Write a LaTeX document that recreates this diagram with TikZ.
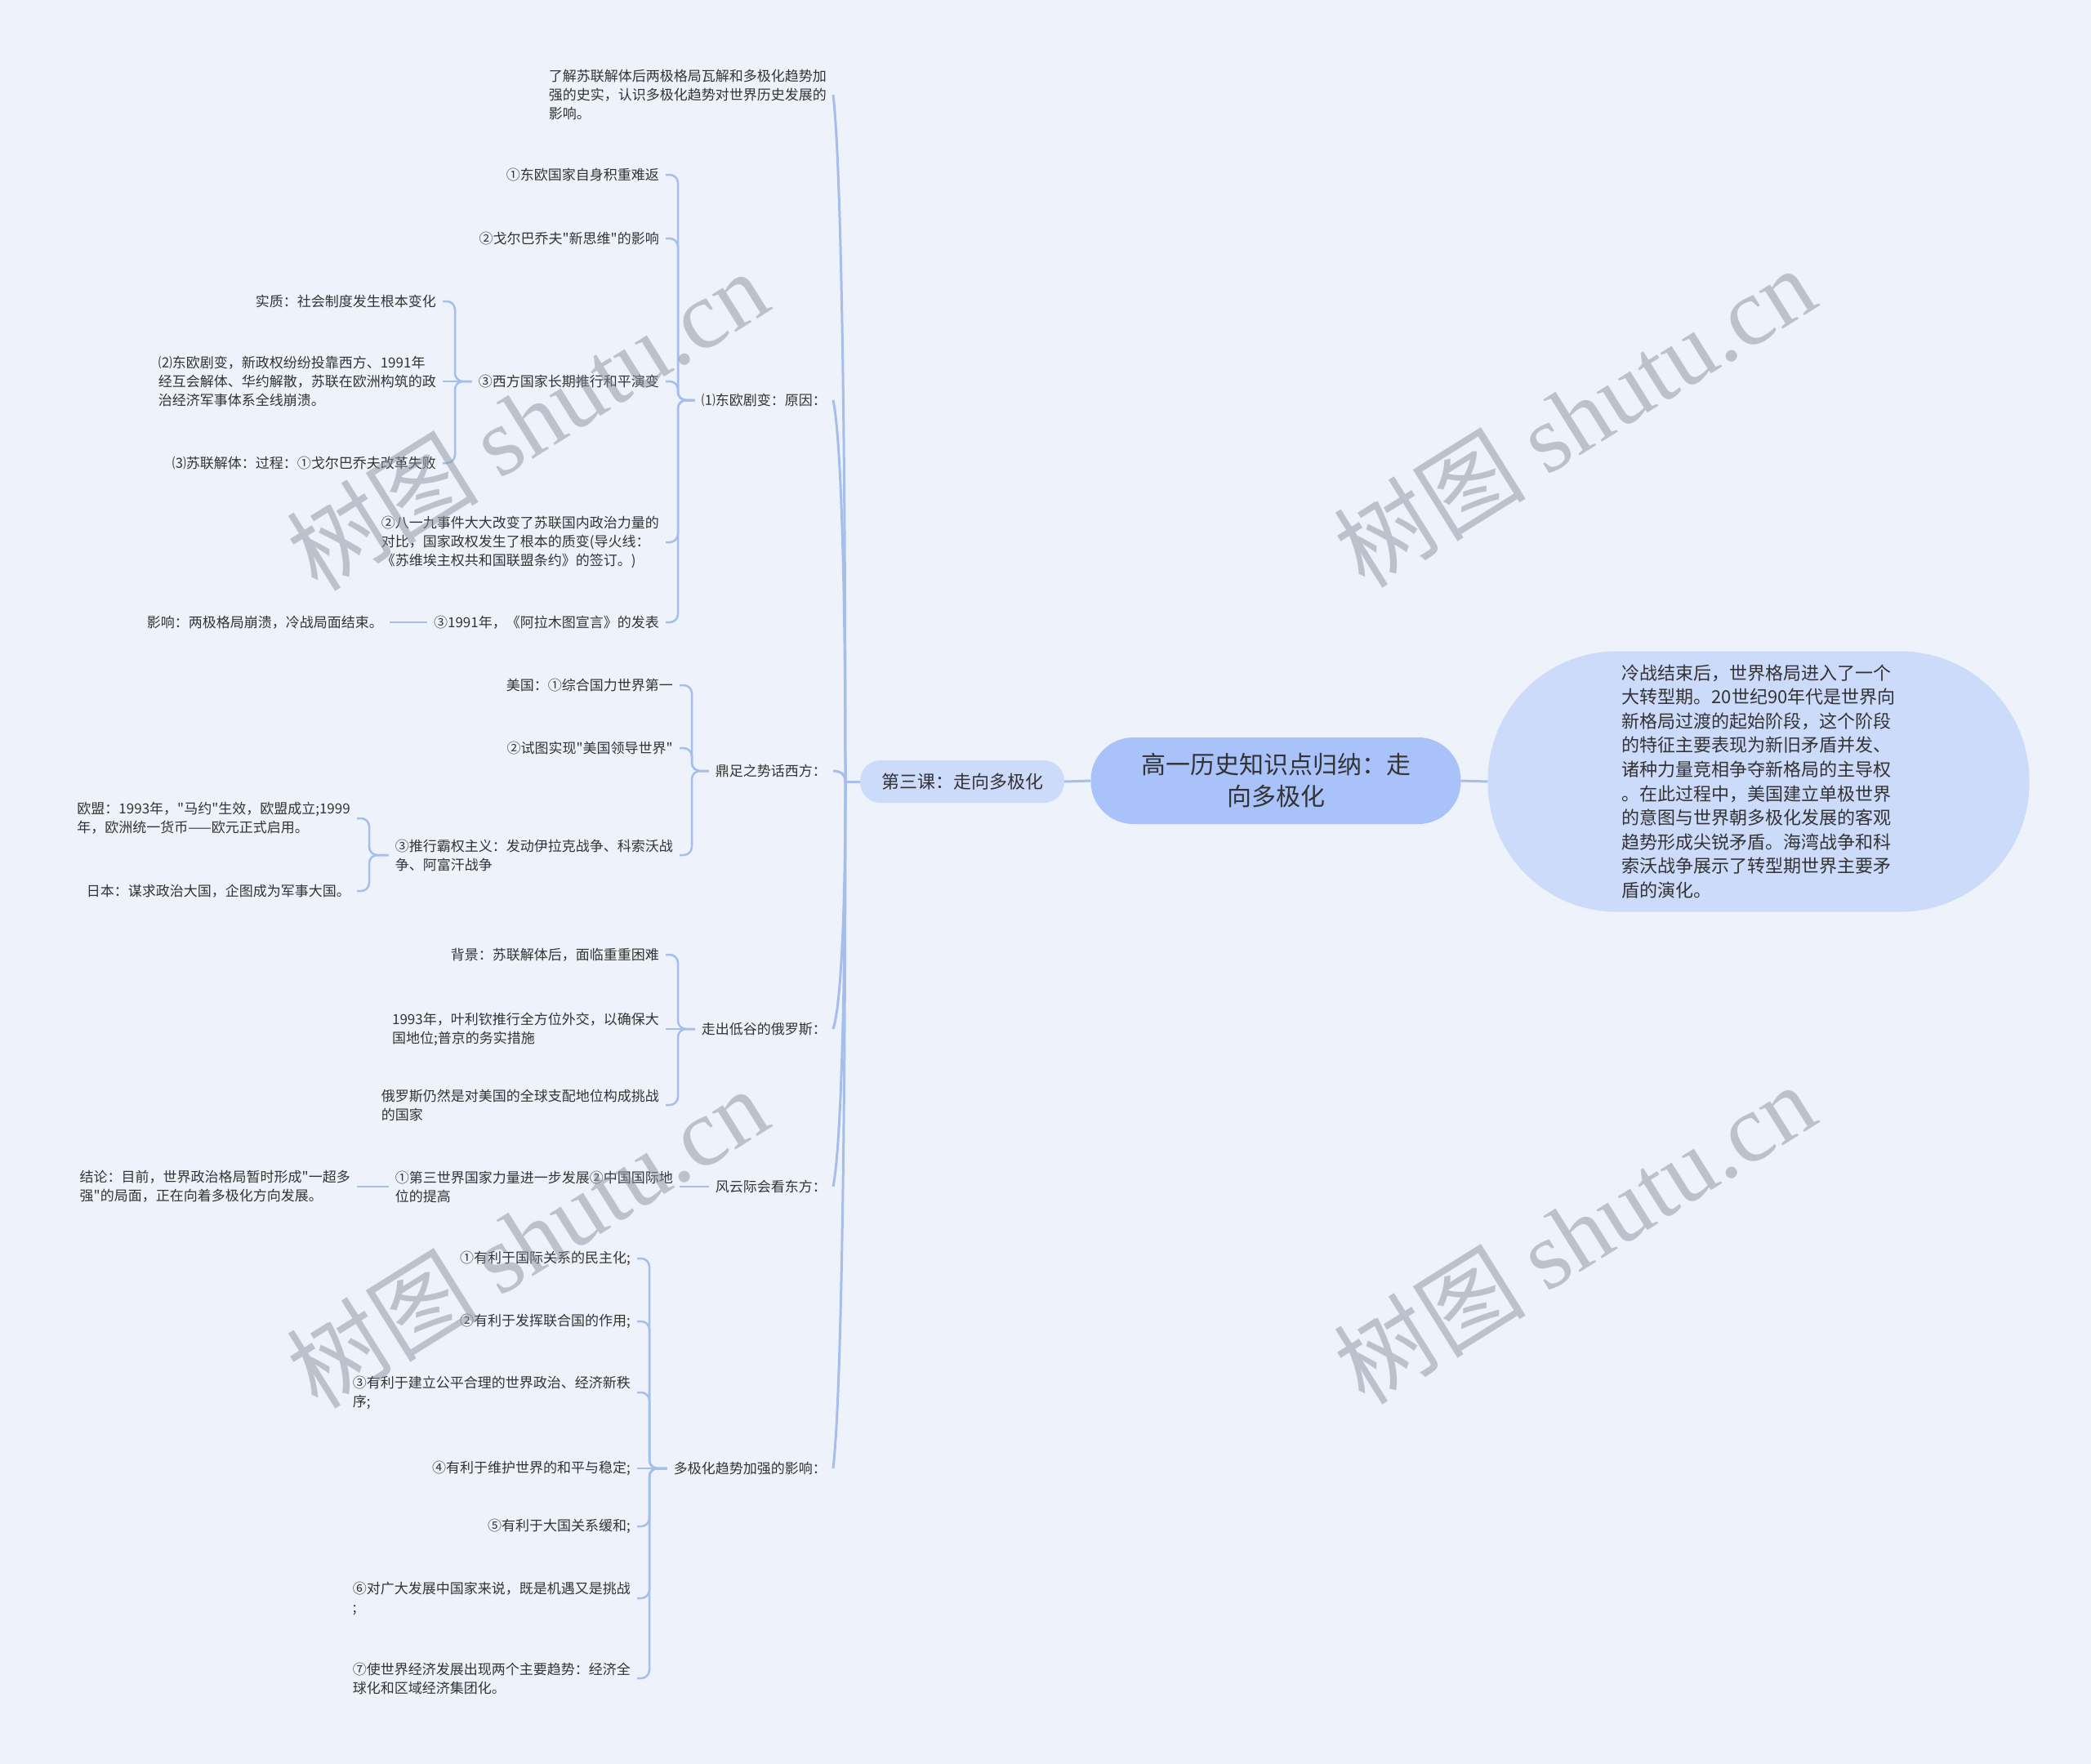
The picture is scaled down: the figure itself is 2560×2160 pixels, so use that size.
\documentclass[tikz,border=0pt]{standalone}
\usepackage{fontspec}
\setmainfont{Noto Sans CJK SC}[Ligatures=TeXOff]
\newfontfamily\wmlatin{Liberation Serif}
\definecolor{bgc}{RGB}{238,243,251}
\definecolor{linec}{RGB}{166,190,236}
\definecolor{rootc}{RGB}{169,195,250}
\definecolor{lightc}{RGB}{205,219,250}
\definecolor{txt}{RGB}{51,51,51}
\definecolor{wmc}{RGB}{140,146,158}
\begin{document}
\begin{tikzpicture}[x=1pt,y=-1pt,
  mainline/.style={draw=linec, line width=3pt},
  conn/.style={draw=linec, line width=2.5pt, rounded corners=10pt},
  leaf/.style={font=\fontsize{17pt}{23pt}\selectfont, text=txt, inner xsep=8pt, inner ysep=3pt, anchor=east, align=left},
  rootbox/.style={fill=rootc, text=txt, font=\fontsize{30pt}{39pt}\selectfont, align=center, minimum width=453pt, minimum height=106pt, rounded corners=52pt, inner sep=0pt},
  subbox/.style={fill=lightc, text=txt, font=\fontsize{22pt}{28pt}\selectfont, minimum width=250pt, minimum height=52pt, rounded corners=25pt, inner sep=0pt},
  notebox/.style={fill=lightc, text=txt, font=\fontsize{22pt}{29.6pt}\selectfont, align=left, minimum width=663pt, minimum height=319pt, rounded corners=158pt, inner sep=0pt},
  wm/.style={text=wmc, opacity=0.5, rotate=32, font=\fontsize{118pt}{128pt}\selectfont}
]
\useasboundingbox (0,0) rectangle (2560,2160);
\fill[bgc] (0,0) rectangle (2560,2160);

% central nodes
\node[rootbox] (root) at (1562,956) {高一历史知识点归纳：走\\向多极化};
\node[subbox] (t3) at (1178,957) {第三课：走向多极化};
\node[notebox] (note) at (2153,957) {冷战结束后，世界格局进入了一个\\大转型期。20世纪90年代是世界向\\新格局过渡的起始阶段，这个阶段\\的特征主要表现为新旧矛盾并发、\\诸种力量竞相争夺新格局的主导权\\。在此过程中，美国建立单极世界\\的意图与世界朝多极化发展的客观\\趋势形成尖锐矛盾。海湾战争和科\\索沃战争展示了转型期世界主要矛\\盾的演化。};

\draw[mainline] (root.east) -- (note.west);
\draw[mainline] (root.west) -- (t3.east);
\coordinate (mb) at (1035,957);
\draw[mainline] (t3.west) -- (mb);

% level 1
\node[leaf] (n1) at (1020,116) {了解苏联解体后两极格局瓦解和多极化趋势加\\强的史实，认识多极化趋势对世界历史发展的\\影响。};
\node[leaf] (n2) at (1020,490) {⑴东欧剧变：原因：};
\node[leaf] (n3) at (1020,944) {鼎足之势话西方：};
\node[leaf] (n4) at (1020,1260) {走出低谷的俄罗斯：};
\node[leaf] (n5) at (1020,1453) {风云际会看东方：};
\node[leaf] (n6) at (1020,1798) {多极化趋势加强的影响：};

\draw[mainline] (n1.east) .. controls +(10,84) and +(0,-421) .. (mb);
\draw[mainline] (n2.east) .. controls +(10,47) and +(0,-234) .. (mb);
\draw[mainline] (n3.east) .. controls +(10,0) and +(0,-8) .. (mb);
\draw[mainline] (n4.east) .. controls +(10,-30) and +(0,151) .. (mb);
\draw[mainline] (n5.east) .. controls +(10,-50) and +(0,248) .. (mb);
\draw[mainline] (n6.east) .. controls +(10,-84) and +(0,420) .. (mb);

% group n2
\coordinate (b2) at (830,490);
\node[leaf] (a) at (815,214) {①东欧国家自身积重难返};
\node[leaf] (b) at (815,292) {②戈尔巴乔夫"新思维"的影响};
\node[leaf] (c) at (815,467) {③西方国家长期推行和平演变};
\node[leaf] (d) at (815,664) {②八一九事件大大改变了苏联国内政治力量的\\对比，国家政权发生了根本的质变(导火线：\\《苏维埃主权共和国联盟条约》的签订。)};
\node[leaf] (e) at (815,762) {③1991年，《阿拉木图宣言》的发表};
\foreach \k in {a,b,c,d,e} {
  \draw[conn] (\k.east) -- (\k.east -| b2) -- (b2) -- (n2.west);
}

% group c
\coordinate (bc) at (557,467);
\node[leaf] (c1) at (542,369) {实质：社会制度发生根本变化};
\node[leaf] (c2) at (542,467) {⑵东欧剧变，新政权纷纷投靠西方、1991年\\经互会解体、华约解散，苏联在欧洲构筑的政\\治经济军事体系全线崩溃。};
\node[leaf] (c3) at (542,567) {⑶苏联解体：过程：①戈尔巴乔夫改革失败};
\draw[conn] (c1.east) -- (c1.east -| bc) -- (bc) -- (c.west);
\draw[conn] (c2.east) -- (c.west);
\draw[conn] (c3.east) -- (c3.east -| bc) -- (bc) -- (c.west);

% group e
\node[leaf] (e1) at (477,762) {影响：两极格局崩溃，冷战局面结束。};
\draw[conn] (e1.east) -- (e.west);

% group n3
\coordinate (b3) at (847,944);
\node[leaf] (f1) at (832,839) {美国：①综合国力世界第一};
\node[leaf] (f2) at (832,916) {②试图实现"美国领导世界"};
\node[leaf] (f3) at (832,1047) {③推行霸权主义：发动伊拉克战争、科索沃战\\争、阿富汗战争};
\foreach \k in {f1,f2,f3} {
  \draw[conn] (\k.east) -- (\k.east -| b3) -- (b3) -- (n3.west);
}

% group f3
\coordinate (bf) at (452,1047);
\node[leaf] (f3a) at (437,1002) {欧盟：1993年，"马约"生效，欧盟成立;1999\\年，欧洲统一货币——欧元正式启用。};
\node[leaf] (f3b) at (437,1091) {日本：谋求政治大国，企图成为军事大国。};
\foreach \k in {f3a,f3b} {
  \draw[conn] (\k.east) -- (\k.east -| bf) -- (bf) -- (f3.west);
}

% group n4
\coordinate (b4) at (830,1260);
\node[leaf] (g1) at (815,1169) {背景：苏联解体后，面临重重困难};
\node[leaf] (g2) at (815,1260) {1993年，叶利钦推行全方位外交，以确保大\\国地位;普京的务实措施};
\node[leaf] (g3) at (815,1353) {俄罗斯仍然是对美国的全球支配地位构成挑战\\的国家};
\draw[conn] (g1.east) -- (g1.east -| b4) -- (b4) -- (n4.west);
\draw[conn] (g2.east) -- (n4.west);
\draw[conn] (g3.east) -- (g3.east -| b4) -- (b4) -- (n4.west);

% group n5
\node[leaf] (h1) at (832,1453) {①第三世界国家力量进一步发展②中国国际地\\位的提高};
\node[leaf] (h2) at (437,1453) {结论：目前，世界政治格局暂时形成"一超多\\强"的局面，正在向着多极化方向发展。};
\draw[conn] (h1.east) -- (n5.west);
\draw[conn] (h2.east) -- (h1.west);

% group n6
\coordinate (b6) at (795,1798);
\node[leaf] (k1) at (780,1541) {①有利于国际关系的民主化;};
\node[leaf] (k2) at (780,1618) {②有利于发挥联合国的作用;};
\node[leaf] (k3) at (780,1705) {③有利于建立公平合理的世界政治、经济新秩\\序;};
\node[leaf] (k4) at (780,1798) {④有利于维护世界的和平与稳定;};
\node[leaf] (k5) at (780,1869) {⑤有利于大国关系缓和;};
\node[leaf] (k6) at (780,1957) {⑥对广大发展中国家来说，既是机遇又是挑战\\;};
\node[leaf] (k7) at (780,2055) {⑦使世界经济发展出现两个主要趋势：经济全\\球化和区域经济集团化。};
\foreach \k in {k1,k2,k3,k5,k6,k7} {
  \draw[conn] (\k.east) -- (\k.east -| b6) -- (b6) -- (n6.west);
}
\draw[conn] (k4.east) -- (n6.west);

% watermarks
\node[wm] (w1) at (645,514) {树图 {\wmlatin shutu.cn}};
\node[wm] (w2) at (1927,510) {树图 {\wmlatin shutu.cn}};
\node[wm] (w3) at (645,1515) {树图 {\wmlatin shutu.cn}};
\node[wm] (w4) at (1927,1510) {树图 {\wmlatin shutu.cn}};
\end{tikzpicture}
\end{document}
